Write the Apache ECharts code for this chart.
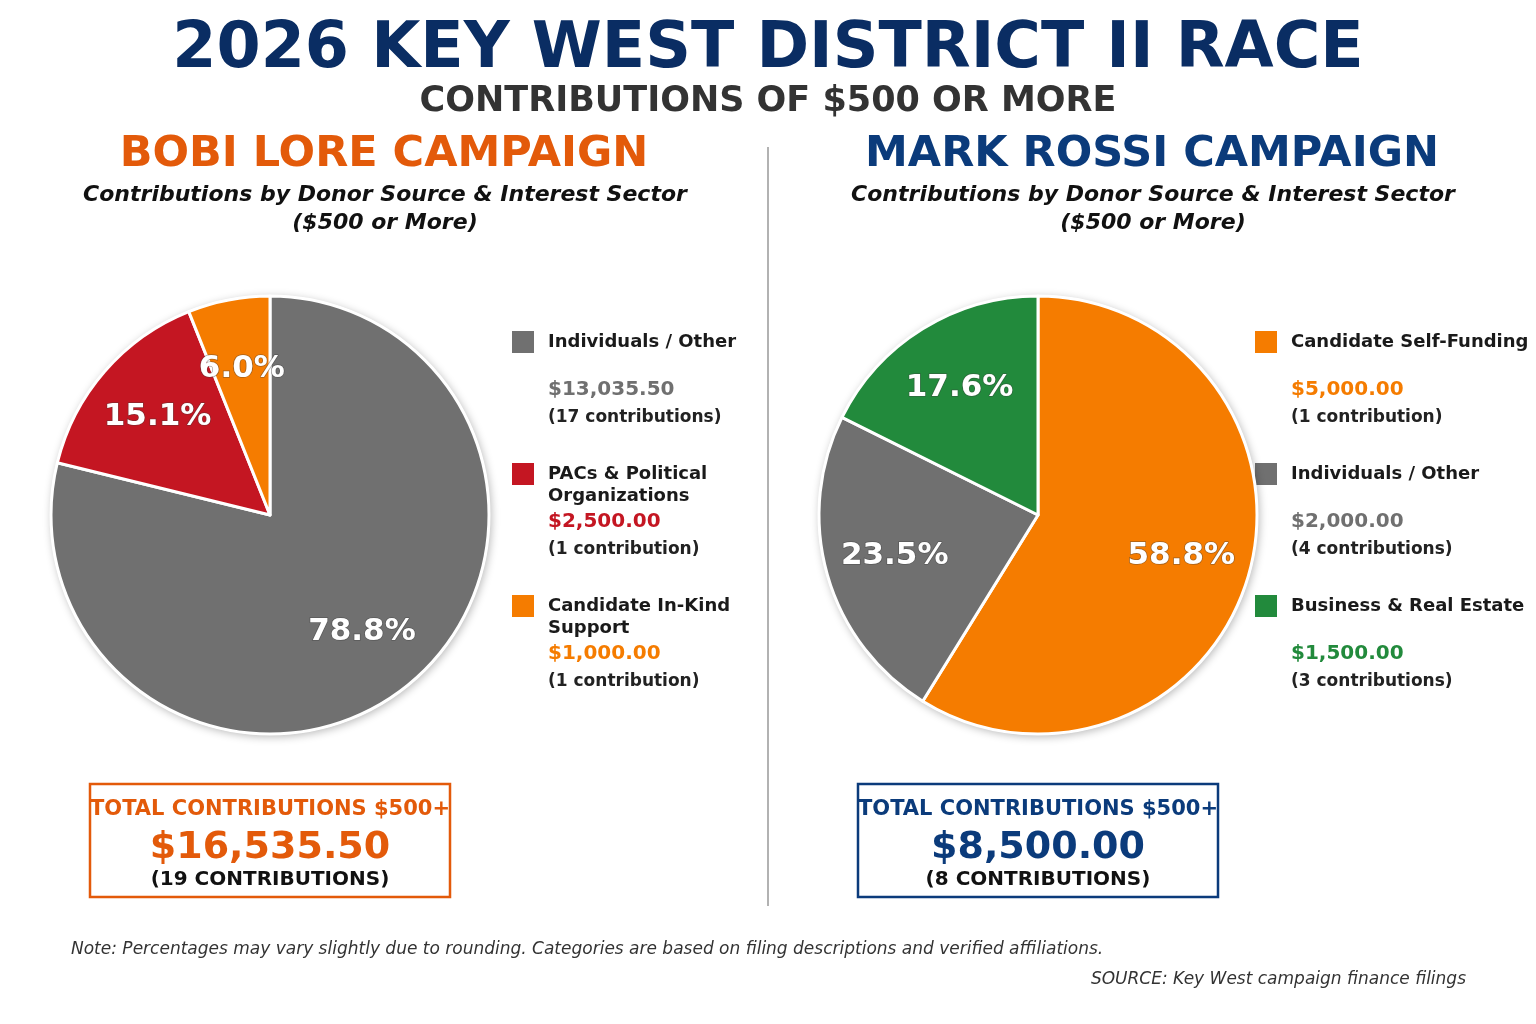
<!DOCTYPE html>
<html>
<head>
<meta charset="utf-8">
<title>2026 Key West District II Race</title>
<script src="https://cdn.jsdelivr.net/npm/echarts@6/dist/echarts.min.js"></script>
<style>
    html, body { margin: 0; padding: 0; background: #fff; }
    #chart { width: 1536px; height: 1024px; }
</style>
</head>
<body>
<div id="chart"></div>
<script>
// 数据
const loreNames = ['Individuals / Other', 'PACs & Political\nOrganizations', 'Candidate In-Kind\nSupport'];
const loreValues = [13035.50, 2500.00, 1000.00];
const loreCounts = [17, 1, 1];
const loreColors = ['#707070', '#c41622', '#f57c00'];

const rossiNames = ['Candidate Self-Funding', 'Individuals / Other', 'Business & Real Estate'];
const rossiValues = [5000.00, 2000.00, 1500.00];
const rossiCounts = [1, 4, 3];
const rossiColors = ['#f57c00', '#707070', '#228a3c'];

const FONT = '"DejaVu Sans", Verdana, sans-serif';
const NAVY = '#0a2d63';
const ORANGE = '#e35a0a';
const BLUE = '#0b3b7b';

let chart = echarts.init(document.getElementById('chart'), null, { renderer: 'canvas' });

function sum(arr) {
    return arr.reduce((a, b) => a + b, 0);
}

function money(v) {
    return '$' + v.toLocaleString('en-US', { minimumFractionDigits: 2, maximumFractionDigits: 2 });
}

function countText(n) {
    return '(' + n + (n === 1 ? ' contribution)' : ' contributions)');
}

function text(x, y, str, size, color, opt) {
    opt = opt || {};
    return {
        type: 'text',
        silent: true,
        style: {
            x: x,
            y: y,
            text: str,
            fill: color,
            fontFamily: FONT,
            fontSize: size,
            fontWeight: opt.weight || 'bold',
            fontStyle: opt.style || 'normal',
            lineHeight: opt.lineHeight || size * 1.2,
            textAlign: opt.align || 'center',
            align: opt.align || 'center',
            textVerticalAlign: 'middle',
            verticalAlign: 'middle'
        }
    };
}

// 饼图 (阴影底 + 主体 + 标签层)
function pieSeries(name, center, names, values, colors) {
    let total = sum(values);
    let data = values.map((v, i) => ({
        name: names[i].replace('\n', ' '),
        value: v,
        itemStyle: { color: colors[i] }
    }));
    return [{
        name: name + ' shadow',
        type: 'pie',
        center: center,
        radius: [0, 220],
        z: 1,
        animation: false,
        silent: true,
        itemStyle: {
            color: '#fff',
            borderWidth: 0,
            shadowBlur: 9,
            shadowOffsetX: 1.5,
            shadowOffsetY: 2,
            shadowColor: 'rgba(0,0,0,0.28)'
        },
        label: { show: false },
        labelLine: { show: false },
        data: [{ name: name, value: total }]
    }, {
        name: name,
        type: 'pie',
        center: center,
        radius: [0, 219],
        startAngle: 90,
        clockwise: true,
        z: 2,
        animation: false,
        silent: true,
        itemStyle: {
            borderColor: '#fff',
            borderWidth: 3
        },
        label: { show: false },
        labelLine: { show: false },
        data: data
    }, {
        name: name + ' labels',
        type: 'pie',
        center: center,
        radius: [73, 219],
        startAngle: 90,
        clockwise: true,
        z: 3,
        animation: false,
        silent: true,
        itemStyle: { color: 'rgba(0,0,0,0)', borderWidth: 0 },
        label: {
            show: true,
            position: 'inside',
            formatter: p => (p.value / total * 100).toFixed(1) + '%',
            color: '#fff',
            fontFamily: FONT,
            fontWeight: 'bold',
            fontSize: 31,
            textBorderColor: 'rgba(60,60,60,0.45)',
            textBorderWidth: 1.5
        },
        labelLine: { show: false },
        data: data.map(d => ({ name: d.name, value: d.value }))
    }];
}

// 图例 (色块 + 名称 + 金额 + 笔数)
function legend(x, names, values, counts, colors) {
    let els = [];
    names.forEach((n, i) => {
        let top = 331 + i * 132;
        els.push({
            type: 'rect',
            silent: true,
            shape: { x: x, y: top, width: 22, height: 22 },
            style: { fill: colors[i] }
        });
        let label = text(x + 36, top + 11, n, 18, '#1a1a1a', { align: 'left', lineHeight: 22 });
        // 双行名称时第二行向下排列
        if (n.indexOf('\n') > -1) {
            label.style.verticalAlign = 'top';
            label.style.textVerticalAlign = 'top';
            label.style.y = top;
        }
        els.push(label);
        els.push(text(x + 36, top + 59, money(values[i]), 20, colors[i], { align: 'left' }));
        els.push(text(x + 36, top + 87, countText(counts[i]), 17, '#222', { align: 'left' }));
    });
    return els;
}

function totalBox(cx, values, counts, color) {
    return [{
        type: 'rect',
        silent: true,
        shape: { x: cx - 180, y: 784, width: 360, height: 113 },
        style: { fill: '#fff', stroke: color, lineWidth: 2.5 }
    },
    text(cx, 810, 'TOTAL CONTRIBUTIONS $500+', 21, color),
    text(cx, 848, money(sum(values)), 38, color),
    text(cx, 880, '(' + sum(counts) + ' CONTRIBUTIONS)', 20, '#111')];
}

let graphics = [
    text(768, 50, '2026 KEY WEST DISTRICT II RACE', 63.5, NAVY),
    text(768, 102, 'CONTRIBUTIONS OF $500 OR MORE', 35, '#333'),
    text(384, 155, 'BOBI LORE CAMPAIGN', 43, ORANGE),
    text(1152, 155, 'MARK ROSSI CAMPAIGN', 43, BLUE),
    text(385, 195, 'Contributions by Donor Source & Interest Sector', 22, '#111', { style: 'italic' }),
    text(385, 223, '($500 or More)', 22, '#111', { style: 'italic' }),
    text(1153, 195, 'Contributions by Donor Source & Interest Sector', 22, '#111', { style: 'italic' }),
    text(1153, 223, '($500 or More)', 22, '#111', { style: 'italic' }),
    {
        type: 'line',
        silent: true,
        shape: { x1: 768, y1: 147, x2: 768, y2: 906 },
        style: { stroke: '#999', lineWidth: 1.5 }
    },
    text(71, 950, 'Note: Percentages may vary slightly due to rounding. Categories are based on filing descriptions and verified affiliations.', 17, '#333', { weight: 'normal', style: 'italic', align: 'left' }),
    text(1466, 980, 'SOURCE: Key West campaign finance filings', 17, '#333', { weight: 'normal', style: 'italic', align: 'right' })
]
    .concat(legend(512, loreNames, loreValues, loreCounts, loreColors))
    .concat(legend(1255, rossiNames, rossiValues, rossiCounts, rossiColors))
    .concat(totalBox(270, loreValues, loreCounts, ORANGE))
    .concat(totalBox(1038, rossiValues, rossiCounts, BLUE));

let option = {
    backgroundColor: '#fff',
    animation: false,
    tooltip: { show: false },
    graphic: { elements: graphics },
    series: pieSeries('Bobi Lore', [270, 515], loreNames, loreValues, loreColors)
        .concat(pieSeries('Mark Rossi', [1038, 515], rossiNames, rossiValues, rossiColors))
};

chart.setOption(option);
</script>
</body>
</html>
